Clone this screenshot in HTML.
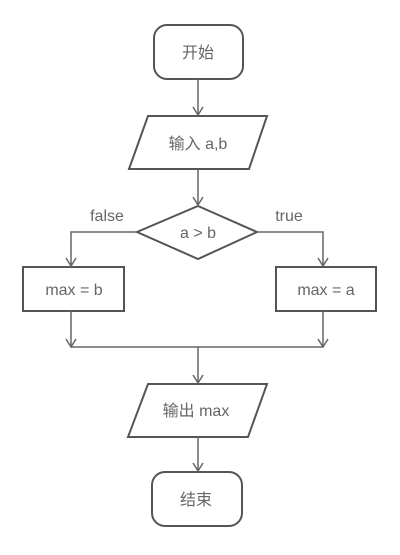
<!DOCTYPE html>
<html><head><meta charset="utf-8"><style>body{margin:0;background:#fff}</style></head>
<body>
<svg width="400" height="550" viewBox="0 0 400 550" xmlns="http://www.w3.org/2000/svg">
<g fill="none" stroke="#555" stroke-width="2">
<rect x="154" y="25" width="89" height="54" rx="13"/>
<polygon points="148,116 267,116 249,169 129,169"/>
<polygon points="198,206 257,232 198,259 137,232"/>
<rect x="23" y="267" width="101" height="44"/>
<rect x="276" y="267" width="100" height="44"/>
<polygon points="148,384 267,384 248,437 128,437"/>
<rect x="152" y="472" width="90" height="54" rx="13"/>
</g>
<g fill="none" stroke="#666" stroke-width="1.5">
<path d="M198 79V115M193 107l5 8 5-8"/>
<path d="M198 169V205M193 197l5 8 5-8"/>
<path d="M137 232H71V266M66 258l5 8 5-8"/>
<path d="M257 232H323V266M318 258l5 8 5-8"/>
<path d="M71 311V347M66 339l5 8 5-8"/>
<path d="M323 311V347M318 339l5 8 5-8"/>
<path d="M71 347H323"/>
<path d="M198 347V383M193 375l5 8 5-8"/>
<path d="M198 437V471M193 463l5 8 5-8"/>
</g>
<g font-family="'Liberation Sans','Noto Sans CJK SC',sans-serif" font-size="16" fill="#666" text-anchor="middle">
<text x="198" y="58">开始</text>
<text x="198" y="149">输入 a,b</text>
<text x="198" y="238">a &gt; b</text>
<text x="107" y="221">false</text>
<text x="289" y="221">true</text>
<text x="74" y="295">max = b</text>
<text x="326" y="295">max = a</text>
<text x="196" y="416">输出 max</text>
<text x="196" y="505">结束</text>
</g>
</svg>
</body></html>
